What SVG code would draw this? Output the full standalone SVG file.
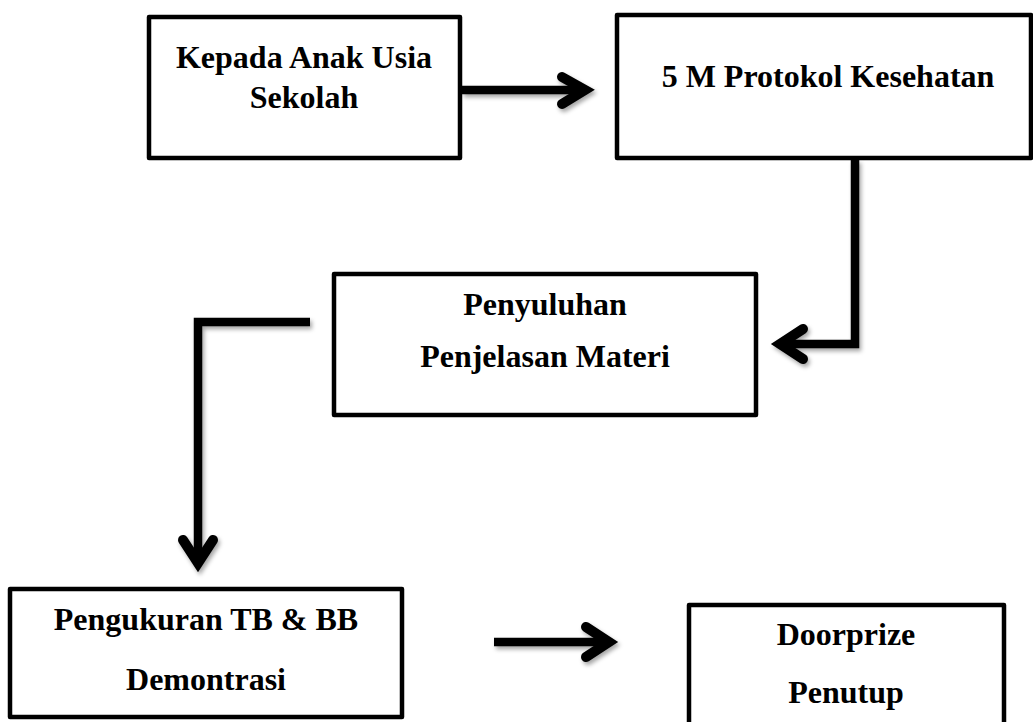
<svg xmlns="http://www.w3.org/2000/svg" width="1033" height="722" viewBox="0 0 1033 722">
<defs>
<filter id="sh" filterUnits="userSpaceOnUse" x="0" y="0" width="1033" height="722">
<feDropShadow dx="2" dy="3" stdDeviation="2" flood-color="#000" flood-opacity="0.35"/>
</filter>
<style>
.box{fill:#fff;stroke:#000;stroke-width:4.5;stroke-linejoin:round}
.t{font-family:"Liberation Serif","Times New Roman",serif;font-weight:bold;font-size:32px;fill:#000;text-anchor:middle}
.c{fill:none;stroke:#000;stroke-width:8.5;stroke-linejoin:miter;stroke-miterlimit:4}
.h{fill:none;stroke:#000;stroke-width:10;stroke-linecap:round;stroke-linejoin:miter;stroke-miterlimit:4}
</style>
</defs>
<rect width="1033" height="722" fill="#fff"/>
<g id="connectors" filter="url(#sh)">
<g id="c1"><path class="c" d="M462 90 H584"/><path class="h" d="M562 77 L585 90 L562 104"/></g>
<g id="c2"><path class="c" d="M855 160 V344 H782"/><path class="h" d="M803 329 L780 344 L803 359"/></g>
<g id="c3"><path class="c" d="M310 322 H198 V561"/><path class="h" d="M183 540 L198 563 L213 540"/></g>
<g id="c4"><path class="c" d="M494 642 H608"/><path class="h" d="M586 627 L609 642 L586 657"/></g>
</g>
<g id="n1"><rect class="box" x="149" y="17" width="311" height="141"/>
<text class="t" x="304" y="68">Kepada Anak Usia</text><text class="t" x="304" y="108">Sekolah</text></g>
<g id="n2"><rect class="box" x="617" y="15" width="414" height="143"/>
<text class="t" x="828" y="87">5 M Protokol Kesehatan</text></g>
<g id="n3"><rect class="box" x="334" y="274" width="422" height="141"/>
<text class="t" x="545" y="315">Penyuluhan</text><text class="t" x="545" y="367">Penjelasan Materi</text></g>
<g id="n4"><rect class="box" x="10" y="589" width="392" height="128"/>
<text class="t" x="206" y="630">Pengukuran TB &amp; BB</text><text class="t" x="206" y="690">Demontrasi</text></g>
<g id="n5"><rect class="box" x="689" y="605" width="315" height="130"/>
<text class="t" x="846" y="645">Doorprize</text><text class="t" x="846" y="703">Penutup</text></g>
</svg>
